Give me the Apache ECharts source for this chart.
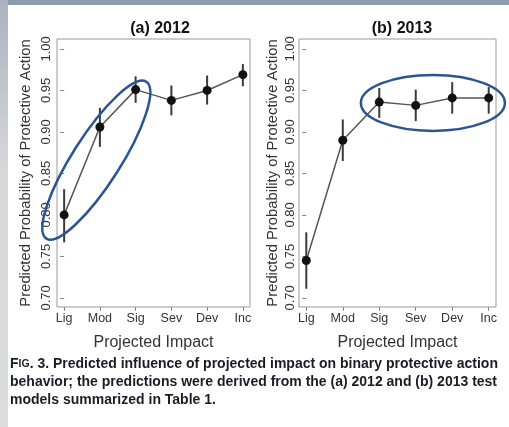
<!DOCTYPE html>
<html>
<head>
<meta charset="utf-8">
<script src="https://cdn.jsdelivr.net/npm/echarts@6/dist/echarts.min.js"></script>
<style>
html, body { margin: 0; padding: 0; background: #fff; }
#main { width: 509px; height: 427px; }
</style>
</head>
<body>
<div id="main"></div>
<script>
// categories on the x axis (projected impact)
var categories = ["Lig", "Mod", "Sig", "Sev", "Dev", "Inc"];
var yTicks = [0.70, 0.75, 0.80, 0.85, 0.90, 0.95, 1.00];

// (a) 2012 predicted probability with interval
var mean2012 = [0.800, 0.906, 0.951, 0.938, 0.950, 0.969];
var low2012 = [0.767, 0.882, 0.935, 0.920, 0.933, 0.955];
var high2012 = [0.831, 0.929, 0.967, 0.956, 0.968, 0.982];

// (b) 2013
var mean2013 = [0.745, 0.890, 0.936, 0.932, 0.941, 0.941];
var low2013 = [0.711, 0.865, 0.917, 0.913, 0.922, 0.922];
var high2013 = [0.779, 0.915, 0.953, 0.951, 0.960, 0.954];

var chart = echarts.init(document.getElementById('main'));

function xAxisFor(i) {
    return {
        type: 'value', gridIndex: i, min: -0.2, max: 5.2,
        axisLine: { show: false },
        splitLine: { show: false },
        axisTick: { show: true, length: 4, customValues: [0, 1, 2, 3, 4, 5], lineStyle: { color: '#888' } },
        axisLabel: {
            customValues: [0, 1, 2, 3, 4, 5], margin: 5,
            fontFamily: 'Liberation Sans', fontSize: 12.5, color: '#333',
            formatter: function (v) { return categories[Math.round(v)]; }
        },
        name: 'Projected Impact', nameLocation: 'middle', nameGap: 28,
        nameTextStyle: { fontFamily: 'Liberation Sans', fontSize: 16, color: '#333' }
    };
}

function yAxisFor(i, gap, margin) {
    return {
        type: 'value', gridIndex: i, min: 0.689, max: 1.012,
        axisLine: { show: false },
        splitLine: { show: false },
        axisTick: { show: true, length: 4, customValues: yTicks, lineStyle: { color: '#888' } },
        axisLabel: {
            customValues: yTicks, rotate: 90, margin: margin,
            fontFamily: 'Liberation Sans', fontSize: 13, color: '#333',
            formatter: function (v) { return v.toFixed(2); }
        },
        name: 'Predicted Probability of Protective Action', nameLocation: 'middle',
        nameRotate: 90, nameGap: gap,
        nameTextStyle: { fontFamily: 'Liberation Sans', fontSize: 14.8, color: '#333' }
    };
}

function points(arr) {
    return arr.map(function (v, i) { return [i, v]; });
}

function errorSeries(idx, low, high) {
    return {
        type: 'custom', xAxisIndex: idx, yAxisIndex: idx, z: 3,
        data: low.map(function (v, i) { return [i, v, high[i]]; }),
        renderItem: function (params, api) {
            var a = api.coord([api.value(0), api.value(1)]);
            var b = api.coord([api.value(0), api.value(2)]);
            return {
                type: 'line',
                shape: { x1: a[0], y1: a[1], x2: b[0], y2: b[1] },
                style: { stroke: '#3a3a3a', lineWidth: 2 }
            };
        }
    };
}

function lineSeries(idx, mean) {
    return {
        type: 'line', xAxisIndex: idx, yAxisIndex: idx, z: 4,
        data: points(mean),
        symbol: 'circle', symbolSize: 9,
        itemStyle: { color: '#111' },
        lineStyle: { color: '#555', width: 1.5 },
        animation: false
    };
}

chart.setOption({
    animation: false,
    backgroundColor: '#fff',
    title: [
        { text: '(a) 2012', left: 155, top: 16, textAlign: 'center',
          textStyle: { fontFamily: 'Liberation Sans', fontSize: 16, fontWeight: 'bold', color: '#111' } },
        { text: '(b) 2013', left: 397, top: 16, textAlign: 'center',
          textStyle: { fontFamily: 'Liberation Sans', fontSize: 16, fontWeight: 'bold', color: '#111' } }
    ],
    grid: [
        { left: 57, top: 39, width: 193, height: 268, show: true, borderColor: '#999', borderWidth: 1, backgroundColor: 'transparent' },
        { left: 299, top: 39, width: 197, height: 268, show: true, borderColor: '#999', borderWidth: 1, backgroundColor: 'transparent' }
    ],
    xAxis: [xAxisFor(0), xAxisFor(1)],
    yAxis: [yAxisFor(0, 24, 4), yAxisFor(1, 19, 2)],
    series: [
        errorSeries(0, low2012, high2012),
        lineSeries(0, mean2012),
        errorSeries(1, low2013, high2013),
        lineSeries(1, mean2013)
    ],
    graphic: [
        // slide frame
        { type: 'rect', shape: { x: 0, y: 0, width: 509, height: 5 }, style: { fill: '#8d9cae' }, z: 100 },
        { type: 'rect', shape: { x: 0, y: 0, width: 8, height: 427 },
          style: { fill: new echarts.graphic.LinearGradient(0, 0, 0, 1, [
              { offset: 0, color: '#a9b3bf' }, { offset: 0.4, color: '#d6d8db' }, { offset: 1, color: '#dcdcdc' }]) }, z: 100 },
        // caption
        { type: 'text', left: 10, top: 357, z: 100,
          style: {
              text: '{s|F}{c|IG}{s|. 3. Predicted influence of projected impact on binary protective action}\n' +
                    '{s|behavior; the predictions were derived from the (a) 2012 and (b) 2013 test}\n' +
                    '{s|models summarized in Table 1.}',
              rich: {
                  s: { fontFamily: 'Liberation Sans', fontWeight: 'bold', fontSize: 14, fill: '#1c1c28', lineHeight: 18 },
                  c: { fontFamily: 'Liberation Sans', fontWeight: 'bold', fontSize: 10.5, fill: '#1c1c28', lineHeight: 18 }
              }
          } }
    ]
});

// highlight ellipses, placed in data units
var ellipses = [
    { grid: 0, x: 0.9, y: 0.866, rx: 93, ry: 24, angle: 57.5 },
    { grid: 1, x: 3.47, y: 0.935, rx: 72, ry: 28, angle: 0 }
];
var extra = ellipses.map(function (e) {
    var c = chart.convertToPixel({ gridIndex: e.grid }, [e.x, e.y]);
    return {
        type: 'ellipse', z: 120,
        x: c[0], y: c[1], rotation: e.angle * Math.PI / 180,
        shape: { cx: 0, cy: 0, rx: e.rx, ry: e.ry },
        style: { fill: 'none', stroke: '#2b5591', lineWidth: 2.5 }
    };
});
var opt = chart.getOption();
chart.setOption({ graphic: opt.graphic[0].elements.concat(extra) });
</script>
</body>
</html>
